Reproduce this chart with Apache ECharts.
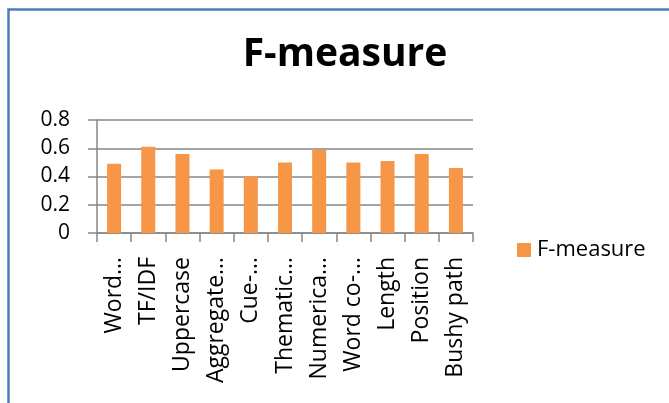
<!DOCTYPE html>
<html>
<head>
<meta charset="utf-8">
<script src="https://cdn.jsdelivr.net/npm/echarts@6/dist/echarts.min.js"></script>
<style>
  html, body { margin: 0; padding: 0; background: #fff; }
  #chart { width: 669px; height: 403px; }
</style>
</head>
<body>
<div id="chart"></div>
<script>
window.addEventListener("load", () => {
    // data
    const categories = ["Word…", "TF/IDF", "Uppercase", "Aggregate…", "Cue-…", "Thematic…",
        "Numerica…", "Word co-…", "Length", "Position", "Bushy path"];
    const fMeasure = [0.49, 0.61, 0.56, 0.45, 0.40, 0.50, 0.59, 0.50, 0.51, 0.56, 0.46];
    const yTicks = [0, 0.2, 0.4, 0.6, 0.8];

    const FONT = "'Open Sans', sans-serif";

    let option = {
        backgroundColor: '#fff',
        animation: false,
        title: {
            text: 'F-measure',
            left: 340,
            textAlign: 'center',
            top: 30,
            textStyle: { fontFamily: FONT, fontWeight: 'bold', fontSize: 39, color: '#000' }
        },
        legend: {
            left: 517,
            top: 238,
            padding: 0,
            itemWidth: 14,
            itemHeight: 14,
            icon: 'rect',
            textStyle: { fontFamily: FONT, fontSize: 22, color: '#000', lineHeight: 24, padding: [0, 0, 0, 1] },
            data: ['F-measure']
        },
        grid: { left: 97, right: 196, top: 120, bottom: 170, containLabel: false },
        xAxis: {
            type: 'category',
            data: categories,
            axisLine: { lineStyle: { color: '#868686', width: 1.5 } },
            axisTick: { show: true, length: 9, lineStyle: { color: '#868686', width: 1.5 } },
            axisLabel: {
                rotate: 90,
                interval: 0,
                margin: 24,
                fontFamily: FONT,
                fontSize: 23,
                color: '#000'
            }
        },
        yAxis: {
            type: 'value',
            min: 0,
            max: 0.8,
            interval: 0.2,
            axisLine: { show: true, lineStyle: { color: '#868686', width: 1.5 } },
            axisTick: { show: true, length: 9, lineStyle: { color: '#868686', width: 1.5 } },
            splitLine: { lineStyle: { color: '#868686', width: 1.5 } },
            axisLabel: {
                margin: 27,
                fontFamily: FONT,
                fontSize: 21,
                color: '#000',
                formatter: v => {
                    const t = yTicks.find(x => Math.abs(x - v) < 1e-9);
                    return t === 0 ? '0' : String(t);
                }
            }
        },
        series: [{
            name: 'F-measure',
            type: 'bar',
            data: fMeasure,
            barWidth: 14,
            itemStyle: { color: '#F79646' }
        }],
        graphic: [{
            type: 'rect',
            silent: true,
            shape: { x: 8.5, y: 9.5, width: 720, height: 500 },
            style: { fill: 'none', stroke: '#4A7EBB', lineWidth: 2.5 }
        }]
    };

    echarts.init(document.getElementById("chart")).setOption(option);
});
</script>
</body>
</html>
